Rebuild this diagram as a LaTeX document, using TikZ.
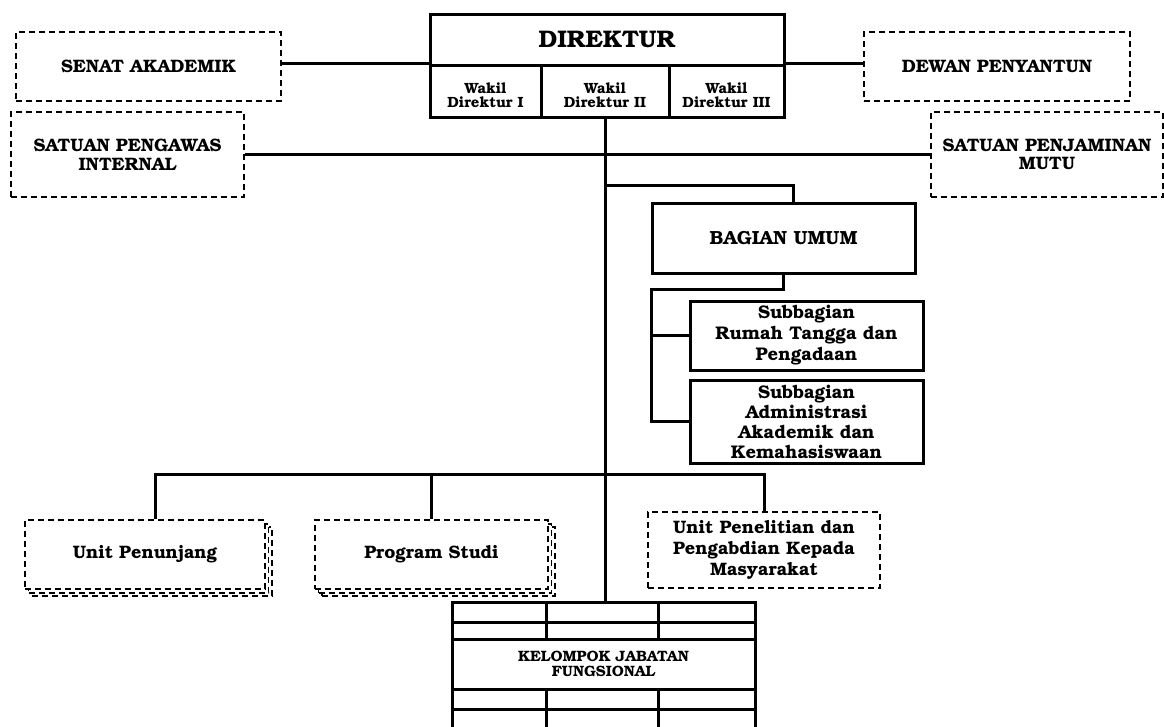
\documentclass[tikz,border=0pt]{standalone}
\usepackage[T1]{fontenc}
\usepackage{bookman}
\begin{document}
\begin{tikzpicture}[x=1pt,y=-1pt,line width=3pt,
  sbox/.style={draw,line width=3pt,fill=white,inner sep=0pt,align=center},
  dbox/.style={draw,line width=1.4pt,dash pattern=on 6pt off 4pt,fill=white,inner sep=0pt,align=center},
  wtext/.style={inner sep=0pt,align=center,font=\fontsize{14.8}{14.5}\selectfont\bfseries}]
\useasboundingbox (0,0) rectangle (1164,726);
% Director
\node[sbox,minimum width=354pt,minimum height=52pt,font=\fontsize{24}{26}\selectfont\bfseries] (dtop) at (607,40) {DIREKTUR};
\node[sbox,minimum width=111pt,minimum height=52pt] (w1) at (485.5,91) {};
\node[sbox,minimum width=128pt,minimum height=52pt] (w2) at (605,91) {};
\node[sbox,minimum width=115pt,minimum height=52pt] (w3) at (726.5,91) {};
\node[wtext] (w1t) at (485.5,95) {Wakil\\Direktur I};
\node[wtext] (w2t) at (605,95) {Wakil\\Direktur II};
\node[wtext] (w3t) at (726.5,95) {Wakil\\Direktur III};
% side boxes
\node[dbox,minimum width=265pt,minimum height=69pt,font=\fontsize{18}{20}\selectfont\bfseries] (senat) at (148.5,66.5) {SENAT AKADEMIK};
\node[dbox,minimum width=266pt,minimum height=69pt,font=\fontsize{18}{20}\selectfont\bfseries] (dp) at (997,66.5) {DEWAN PENYANTUN};
\node[dbox,minimum width=233pt,minimum height=85pt,font=\fontsize{18}{18.5}\selectfont\bfseries] (spi) at (127.5,154.5) {SATUAN PENGAWAS\\INTERNAL};
\node[dbox,minimum width=232pt,minimum height=85pt,font=\fontsize{18}{18.5}\selectfont\bfseries] (spm) at (1047,154.5) {SATUAN PENJAMINAN\\MUTU};
\draw (w1.north west) -- (w1.north west -| senat.east);
\draw (w3.north east) -- (w3.north east -| dp.west);
\draw (spi.east) -- (spm.west);
% Bagian umum
\node[sbox,minimum width=263pt,minimum height=70pt,font=\fontsize{19}{21}\selectfont\bfseries] (bu) at (783.5,238) {BAGIAN UMUM};
\node[sbox,minimum width=233pt,minimum height=69pt,font=\fontsize{18.3}{21}\selectfont\bfseries] (sb1) at (806.5,335.5) {Subbagian\\Rumah Tangga dan\\Pengadaan};
\node[sbox,minimum width=233pt,minimum height=83pt,font=\fontsize{18.3}{20}\selectfont\bfseries] (sb2) at (806.5,421.5) {Subbagian\\Administrasi\\Akademik dan\\Kemahasiswaan};
% trunk
\coordinate (kt) at (605,602);
\coordinate (bj) at (605,185);
\coordinate (bb) at (605,474);
\coordinate (sbt) at (651,289);
\draw (w2.south) -- (kt);
\draw (bj) -| ([xshift=9.5pt]bu.north);
\draw (bu.south) |- (sbt) |- (sb2.west);
\draw (sbt |- sb1.west) -- (sb1.west);
% bottom units
\node[dbox,minimum width=240pt,minimum height=69pt] (up3) at (152,561.5) {};
\node[dbox,minimum width=240pt,minimum height=69pt] (up2) at (148.5,558.5) {};
\node[dbox,minimum width=240pt,minimum height=69pt,font=\fontsize{18}{20}\selectfont\bfseries] (up) at (145,554.5) {Unit Penunjang};
\node[dbox,minimum width=233pt,minimum height=69pt] (ps3) at (438.5,561.5) {};
\node[dbox,minimum width=233pt,minimum height=69pt] (ps2) at (435,558.5) {};
\node[dbox,minimum width=233pt,minimum height=69pt,font=\fontsize{18}{20}\selectfont\bfseries] (ps) at (431.5,554.5) {Program Studi};
\node[dbox,minimum width=232pt,minimum height=76pt,font=\fontsize{18}{21}\selectfont\bfseries] (upm) at (764,550) {Unit Penelitian dan\\Pengabdian Kepada\\Masyarakat};
\draw ([xshift=10pt]up.north) |- (upm.north |- bb) -- (upm.north);
\draw (ps.north) -- (ps.north |- bb);
% Kelompok jabatan fungsional
\node[inner sep=0pt,align=center,font=\fontsize{15}{15}\selectfont\bfseries] (kjf) at (603.5,664) {KELOMPOK JABATAN\\FUNGSIONAL};
\draw (452,730) -- (452,602) -- (755,602) -- (755,730);
\draw (452,622) -- (755,622);
\draw (452,639) -- (755,639);
\draw (452,689) -- (755,689);
\draw (452,709) -- (755,709);
\draw (546,602) -- (546,639);
\draw (658,602) -- (658,639);
\draw (546,689) -- (546,730);
\draw (658,689) -- (658,730);
\end{tikzpicture}
\end{document}
